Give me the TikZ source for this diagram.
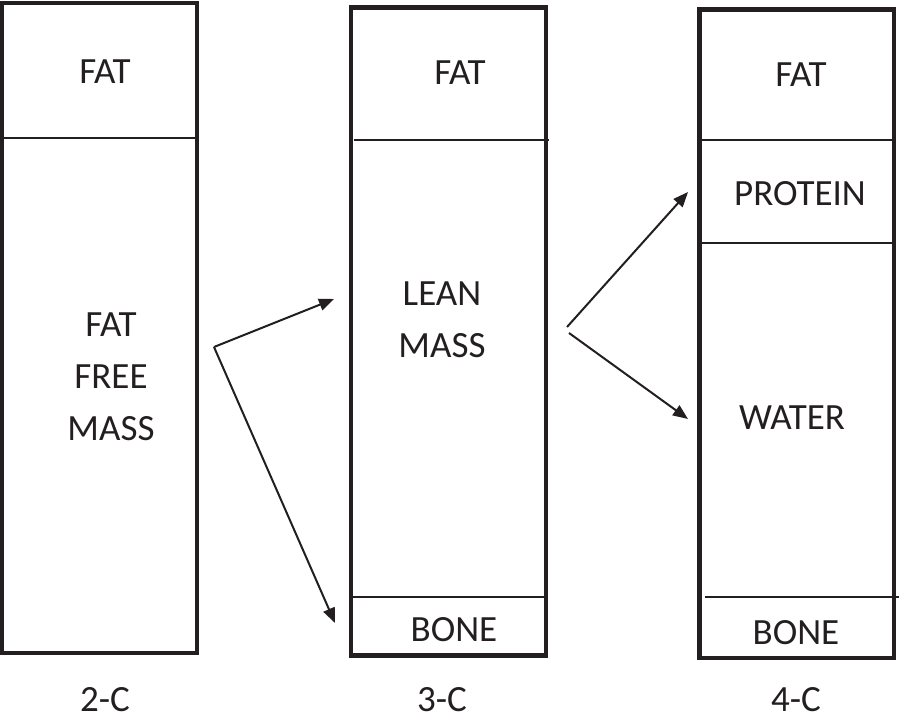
\documentclass[tikz,border=0pt]{standalone}
\usepackage{fontspec}
\setmainfont{Carlito}
\usetikzlibrary{arrows.meta,positioning}
\definecolor{ink}{HTML}{231F20}

\begin{document}
\begin{tikzpicture}[x=1pt,y=-1pt,
  column/.style={draw=ink,line width=4.5pt},
  divider/.style={draw=ink,line width=1.5pt},
  part/.style={font=\fontsize{37}{52}\selectfont,align=center,text=ink,inner sep=0pt},
  link/.style={draw=ink,line width=2pt,-{Triangle[length=15pt,width=12pt]}}]
  \useasboundingbox (0,0) rectangle (904,720);

  % 2-C
  \draw[column] (2,3) rectangle (197,653);
  \draw[divider] (2,138) -- (197,138);
  \node[part] (fatA) at (105,72) {FAT};
  \node[part] (ffm) at (111,377) {FAT\\FREE\\MASS};
  \node[part] (twoC) at (105,700) {2-C};

  % 3-C
  \draw[column] (351,7.5) rectangle (546,655.5);
  \draw[divider] (354,140) -- (549,140);
  \draw[divider] (351,597) -- (546,597);
  \node[part] (fatB) at (460,73) {FAT};
  \node[part] (lean) at (442,320) {LEAN\\MASS};
  \node[part] (boneB) at (454,630) {BONE};
  \node[part] (threeC) at (442,700) {3-C};

  % 4-C
  \draw[column] (699.5,9.5) rectangle (894,658);
  \draw[divider] (699.5,140) -- (894,140);
  \draw[divider] (699.5,243) -- (894,243);
  \node[part] (fatC) at (801,75) {FAT};
  \node[part] (protein) at (800,194) {PROTEIN};
  \node[part] (water) at (792,418) {WATER};
  \node[part] (boneC) at (796,633) {BONE};
  \node[part] (fourC) at (796,700) {4-C};
  \draw[divider] (705,597) -- (899,597);

  % arrows
  \coordinate (splitA) at (214,347);
  \coordinate (toLean) at (334,299);
  \coordinate (toBone) at (335,623);
  \draw[link] (splitA) -- (toLean);
  \draw[link] (splitA) -- (toBone);

  \coordinate (splitB) at (567,327);
  \coordinate (splitC) at (569,333);
  \coordinate (toProtein) at (688,192);
  \coordinate (toWater) at (688,419);
  \draw[link] (splitB) -- (toProtein);
  \draw[link] (splitC) -- (toWater);

\end{tikzpicture}
\end{document}
